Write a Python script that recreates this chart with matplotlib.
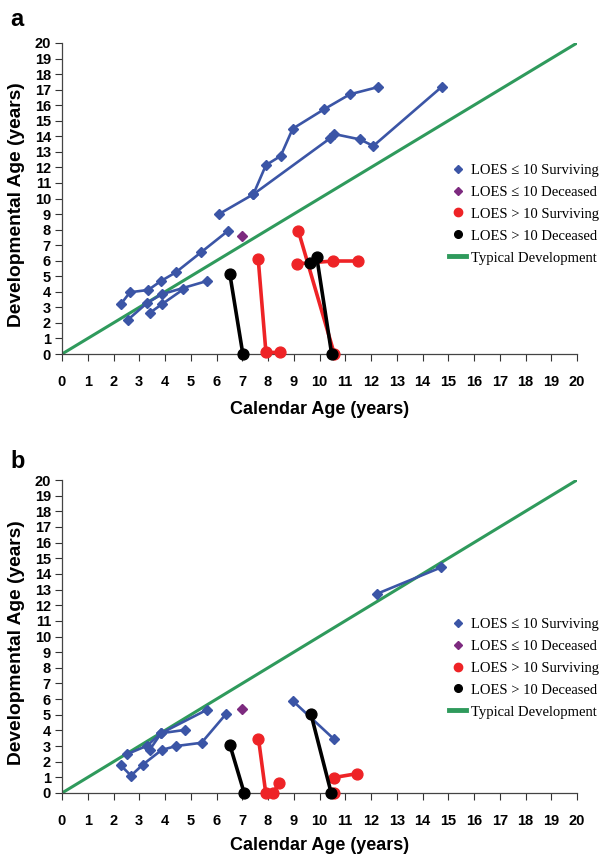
import matplotlib
matplotlib.use("Agg")
import matplotlib.pyplot as plt
from matplotlib.lines import Line2D

plt.rcParams["font.family"] = ["Liberation Sans", "DejaVu Sans"]

BLUE = "#3b55a6"
PURPLE = "#7d2a7f"
RED = "#ee2326"
BLACK = "#000000"
GREEN = "#2f9a5c"

# ---- panel a ----
blue_a_x = [
    [2.29, 2.64, 3.35, 3.84, 4.42, 5.40, 6.44],
    [2.55, 3.29, 3.87, 5.62],
    [3.42, 3.87, 4.71],
    [6.10, 7.43, 7.92, 8.49, 8.96, 10.17, 11.18, 12.28],
    [7.43, 10.41, 10.56, 11.57, 12.09, 14.74],
]
blue_a_y = [
    [3.22, 3.97, 4.12, 4.69, 5.25, 6.54, 7.91],
    [2.19, 3.26, 3.84, 4.69],
    [2.66, 3.19, 4.16],
    [9.00, 10.27, 12.15, 12.73, 14.49, 15.73, 16.70, 17.17],
    [10.27, 13.87, 14.15, 13.80, 13.38, 17.17],
]
purple_a_x = [6.98]
purple_a_y = [7.61]
red_a_x = [[7.62, 7.92, 8.47], [9.18, 10.57], [9.12, 10.54, 11.48]]
red_a_y = [[6.11, 0.10, 0.10], [7.91, 0.03], [5.80, 5.98, 5.98]]
black_a_x = [[6.52, 7.02], [9.63, 9.89, 10.47]]
black_a_y = [[5.12, 0.03], [5.83, 6.26, 0.03]]

# ---- panel b ----
blue_b_x = [
    [2.28, 2.68, 3.13, 3.87, 4.43, 5.42, 6.36],
    [2.51, 3.30, 3.85, 5.63],
    [3.41, 3.85, 4.77],
    [12.22, 14.73],
    [8.96, 10.55],
]
blue_b_y = [
    [1.77, 1.11, 1.80, 2.75, 3.00, 3.21, 5.03],
    [2.47, 3.02, 3.82, 5.32],
    [2.77, 3.82, 4.03],
    [12.72, 14.42],
    [5.89, 3.46],
]
purple_b_x = [6.98]
purple_b_y = [5.39]
red_b_x = [[7.63, 7.91, 8.21, 8.43], [10.57, 11.47], [10.58]]
red_b_y = [[3.48, 0.03, 0.03, 0.64], [0.99, 1.24], [0.03]]
black_b_x = [[6.52, 7.07], [9.67, 10.45]]
black_b_y = [[3.07, 0.03], [5.03, 0.03]]

typical_x = [0, 20]
typical_y = [0, 20]

labels = ["LOES \u2264 10 Surviving", "LOES \u2264 10 Deceased",
          "LOES > 10 Surviving", "LOES > 10 Deceased", "Typical Development"]

fig = plt.figure(figsize=(6.02, 8.57), dpi=100)
ax_a = fig.add_axes([62 / 602, 1 - 354 / 857, 515 / 602, 311 / 857])
ax_b = fig.add_axes([62 / 602, 1 - 793 / 857, 515 / 602, 313 / 857])


def draw(ax, bx, by, px, py, rx, ry, kx, ky, legend_y, xlab_y):
    ax.plot(typical_x, typical_y, color=GREEN, lw=2.2, zorder=2)
    for xs, ys in zip(bx, by):
        ax.plot(xs, ys, color=BLUE, lw=1.9, marker="D", ms=5.2,
                mec=BLUE, zorder=3, clip_on=False)
    ax.plot(px, py, ls="none", color=PURPLE, marker="D", ms=5.2, zorder=3)
    for xs, ys in zip(rx, ry):
        ax.plot(xs, ys, color=RED, lw=2.6, marker="o", ms=7.8,
                zorder=4, clip_on=False)
    for xs, ys in zip(kx, ky):
        ax.plot(xs, ys, color=BLACK, lw=2.6, marker="o", ms=7.8,
                zorder=4, clip_on=False)

    ax.set_xlim(0, 20)
    ax.set_ylim(0, 20)
    ax.set_xticks(range(0, 21))
    ax.set_yticks(range(0, 21))
    ax.tick_params(axis="both", direction="out", length=5, width=0.8,
                   labelsize=10.5, colors="#333333")
    ax.tick_params(axis="x", pad=10)
    ax.tick_params(axis="y", pad=3)
    for lab in ax.get_xticklabels() + ax.get_yticklabels():
        lab.set_fontweight("bold")
        lab.set_color("black")
    for s in ["top", "right"]:
        ax.spines[s].set_visible(False)
    for s in ["left", "bottom"]:
        ax.spines[s].set_color("#444444")
        ax.spines[s].set_linewidth(0.9)

    ax.set_xlabel("Calendar Age (years)", fontsize=13, fontweight="bold")
    ax.set_ylabel("Developmental Age (years)", fontsize=13.8, fontweight="bold")
    ax.xaxis.set_label_coords(0.5, xlab_y)
    ax.yaxis.set_label_coords(-0.072, 0.479)

    handles = [
        Line2D([], [], ls="none", marker="D", ms=3.8, color=BLUE),
        Line2D([], [], ls="none", marker="D", ms=3.8, color=PURPLE),
        Line2D([], [], ls="none", marker="o", ms=6, color=RED),
        Line2D([], [], ls="none", marker="o", ms=5.5, color=BLACK),
        Line2D([], [], color=GREEN, lw=3.5),
    ]
    fig.legend(handles, labels, loc="center left",
               bbox_to_anchor=(449 / 602, legend_y), bbox_transform=fig.transFigure,
               frameon=False, borderpad=0, borderaxespad=0,
               handlelength=1.2, handletextpad=0.3, labelspacing=0.6,
               prop={"family": ["Liberation Serif", "DejaVu Serif"], "size": 10.5})


draw(ax_a, blue_a_x, blue_a_y, purple_a_x, purple_a_y,
     red_a_x, red_a_y, black_a_x, black_a_y, 1 - 214 / 857, -0.151)
draw(ax_b, blue_b_x, blue_b_y, purple_b_x, purple_b_y,
     red_b_x, red_b_y, black_b_x, black_b_y, 1 - 668 / 857, -0.142)

fig.text(10 / 602, 1 - 19 / 857, "a", fontsize=17, fontweight="bold", va="center")
fig.text(10 / 602, 1 - 461 / 857, "b", fontsize=17, fontweight="bold", va="center")

fig.savefig("out.png", dpi=100, facecolor="white")
